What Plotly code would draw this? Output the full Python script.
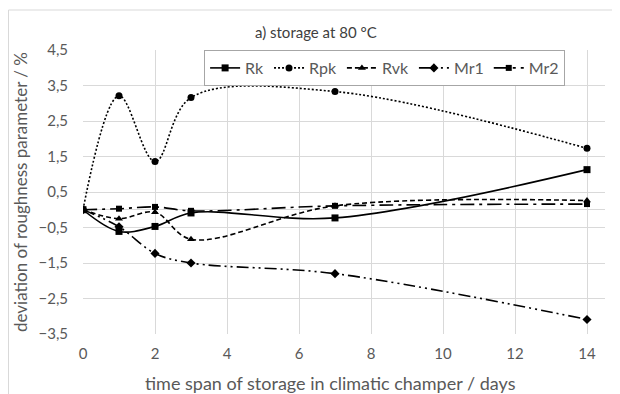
import plotly.graph_objects as go

days = [0, 1, 2, 3, 7, 14]
rk = [0, -0.61, -0.47, -0.09, -0.23, 1.13]
rpk = [0, 3.21, 1.36, 3.16, 3.33, 1.73]
rvk = [0, -0.25, -0.07, -0.83, 0.11, 0.26]
mr1 = [0, -0.48, -1.23, -1.5, -1.8, -3.09]
mr2 = [0, 0.03, 0.08, -0.03, 0.11, 0.16]

x_ticks = [0, 2, 4, 6, 8, 10, 12, 14]

series = [
    ("Rk", rk, "solid", "square", 7),
    ("Rpk", rpk, "2px,2px", "circle", 7),
    ("Rvk", rvk, "5px,3px", "triangle-up", 7),
    ("Mr1", mr1, "12px,4px,2px,4px,2px,4px", "diamond", 7),
    ("Mr2", mr2, "14px,5px,3px,5px", "square", 6),
]

fig = go.Figure()
for name, vals, dash, sym, size in series:
    fig.add_trace(go.Scatter(
        x=days, y=vals, name=name, mode="lines+markers",
        line=dict(color="black", width=1.6, dash=dash, shape="spline", smoothing=1),
        marker=dict(color="black", symbol=sym, size=size),
    ))

grid = "#d9d9d9"
fnt = "Lato, Open Sans, sans-serif"
fig.update_layout(
    width=612, height=386,
    margin=dict(l=75, r=15, t=42, b=60),
    paper_bgcolor="white", plot_bgcolor="white",
    separators=",.",
    font=dict(family=fnt, size=15, color="#595959"),
    title=dict(text="a) storage at 80 °C", x=0.503, xanchor="center", y=0.935, yanchor="middle",
               font=dict(size=15, color="#404040")),
    xaxis=dict(range=[0, 14.5], tickvals=x_ticks, showgrid=True, gridcolor=grid, gridwidth=1,
               zeroline=False, showline=False, ticks="", ticklabelstandoff=9,
               tickfont=dict(size=15), automargin=False),
    yaxis=dict(range=[-3.5, 4.5], tick0=-3.5, dtick=1, tickformat=".1f", showgrid=True,
               gridcolor=grid, gridwidth=1, zeroline=True, zerolinecolor=grid, zerolinewidth=1,
               showline=False, ticks="", ticklabelstandoff=14, tickfont=dict(size=15),
               automargin=False,
               title=dict(text="deviation of roughness parameter / %", standoff=6,
                          font=dict(size=17))),
    legend=dict(orientation="h", x=0.232, y=1.0, xanchor="left", yanchor="top",
                bordercolor="#a6a6a6", borderwidth=1, bgcolor="white",
                font=dict(size=16, color="#595959"), itemwidth=30, tracegroupgap=0),
    showlegend=True,
    annotations=[dict(text="time span of storage in climatic champer / days",
                      xref="paper", yref="paper", x=(322 - 75) / 522, y=-(375 - 326) / 284,
                      xanchor="center", yanchor="middle", showarrow=False,
                      font=dict(size=18, color="#595959"))],
    shapes=[dict(type="rect", xref="paper", yref="paper", x0=-0.1427, y0=-0.5, x1=1.2, y1=1.1408,
                 line=dict(color="#d9d9d9", width=1), layer="below")],
)

fig.write_html("out.html")
